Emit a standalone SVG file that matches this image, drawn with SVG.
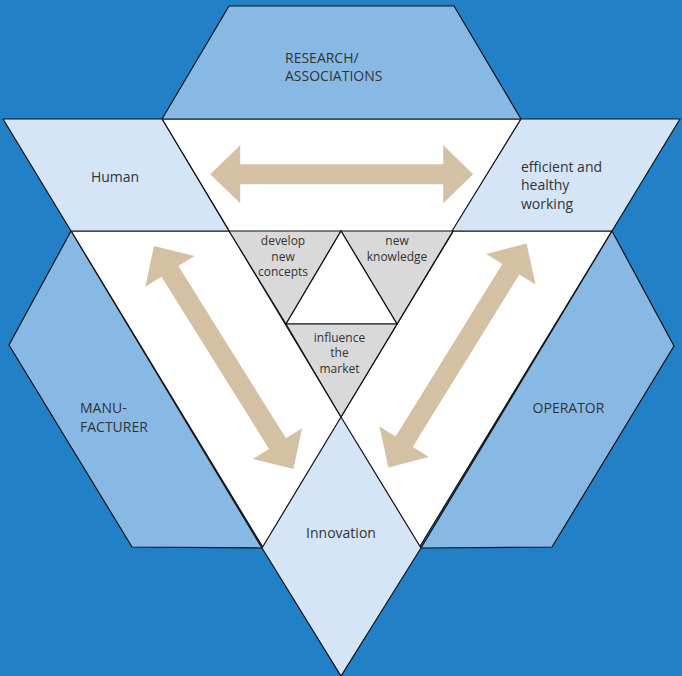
<svg xmlns="http://www.w3.org/2000/svg" width="682" height="676" viewBox="0 0 682 676">
  <defs>
    <style>
      .edge { stroke: #111; stroke-width: 1.2; stroke-linejoin: round; }
      .mid { fill: #88B9E5; }
      .light { fill: #D4E5F7; }
      .white { fill: #FFFFFF; }
      .gray { fill: #D9D9D9; }
      .arrow { fill: #D4C0A2; }
      text { font-family: "Open Sans", "Noto Sans", "DejaVu Sans", sans-serif; fill: #333333; }
      .big { font-size: 14px; }
      .small { font-size: 12px; }
    </style>
    <path id="dbl" d="M -131.5 0 L -101.5 -29 L -101.5 -10 L 101.5 -10 L 101.5 -29 L 131.5 0 L 101.5 29 L 101.5 10 L -101.5 10 L -101.5 29 Z"/>
  </defs>
  <rect x="0" y="0" width="682" height="676" fill="#2280C6"/>

  <g id="background-triangles">
    <polygon class="white edge" points="71,231 612,231 341,676"/>
    <polygon class="white edge" points="162,119 521,119 341,417"/>
  </g>

  <g id="research">
    <polygon class="mid edge" points="229,6 454,6 521,119 162,119"/>
    <text class="big" x="285" y="63">RESEARCH/</text>
    <text class="big" x="285" y="81">ASSOCIATIONS</text>
  </g>

  <g id="human">
    <polygon class="light edge" points="3,119 162,119 229,231 71,231"/>
    <text class="big" x="115" y="182" text-anchor="middle">Human</text>
  </g>

  <g id="efficient">
    <polygon class="light edge" points="521,119 680,119 612,231 452,231"/>
    <text class="big" x="521" y="172">efficient and</text>
    <text class="big" x="521" y="190">healthy</text>
    <text class="big" x="521" y="209">working</text>
  </g>

  <g id="manufacturer">
    <polygon class="mid edge" points="71,231 9,345 132,547 262,548"/>
    <text class="big" x="80" y="413">MANU-</text>
    <text class="big" x="80" y="432">FACTURER</text>
  </g>

  <g id="operator">
    <polygon class="mid edge" points="612,231 674,346 552,547 421,548"/>
    <text class="big" x="568.5" y="413" text-anchor="middle">OPERATOR</text>
  </g>

  <g id="innovation">
    <polygon class="light edge" points="341,417 421,548 341,676 262,548"/>
    <text class="big" x="341" y="538" text-anchor="middle">Innovation</text>
  </g>

  <g id="develop">
    <polygon class="gray edge" points="229,231 341,231 286,324"/>
    <text class="small" x="283" y="245" text-anchor="middle">develop</text>
    <text class="small" x="283" y="260.5" text-anchor="middle">new</text>
    <text class="small" x="283" y="276" text-anchor="middle">concepts</text>
  </g>

  <g id="knowledge">
    <polygon class="gray edge" points="341,231 453,231 397,324"/>
    <text class="small" x="397" y="245" text-anchor="middle">new</text>
    <text class="small" x="397" y="260.5" text-anchor="middle">knowledge</text>
  </g>

  <g id="center">
    <polygon class="white edge" points="341,231 397,324 286,324"/>
  </g>

  <g id="influence">
    <polygon class="gray edge" points="286,324 397,324 341,417"/>
    <text class="small" x="339.5" y="341.5" text-anchor="middle">influence</text>
    <text class="small" x="339.5" y="357" text-anchor="middle">the</text>
    <text class="small" x="339.5" y="372.5" text-anchor="middle">market</text>
  </g>

  <g id="connectors">
    <use href="#dbl" class="arrow" transform="translate(341.7,174.3)"/>
    <use href="#dbl" class="arrow" transform="translate(223.7,357.5) rotate(58)"/>
    <use href="#dbl" class="arrow" transform="translate(457.5,355.5) rotate(121.7)"/>
  </g>
</svg>
